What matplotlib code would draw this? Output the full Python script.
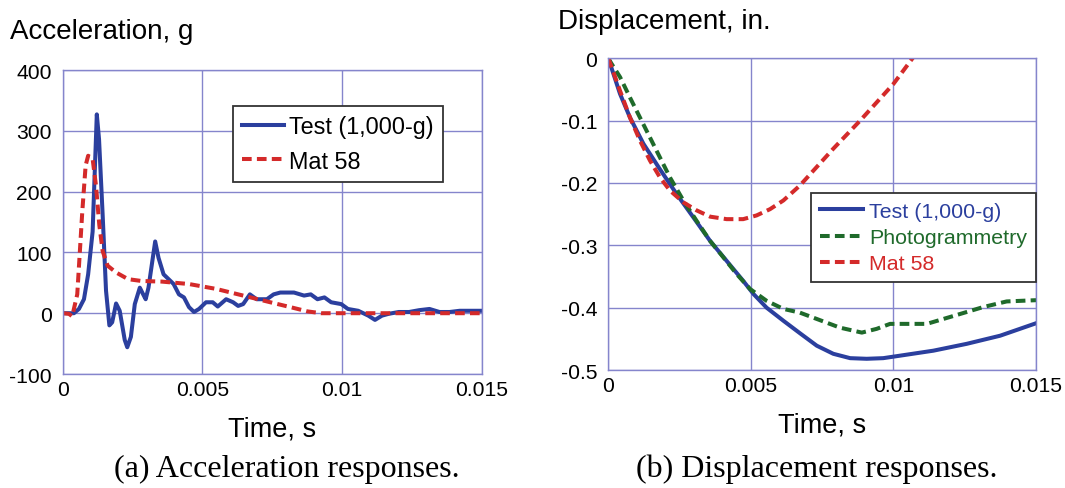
import matplotlib
matplotlib.use("Agg")
from matplotlib import pyplot as plt

# (a) acceleration, g
acc_test_t = [0, 0.0004, 0.00058, 0.00076, 0.00091, 0.00107, 0.00122, 0.0013, 0.00143, 0.00155,
              0.00167, 0.00177, 0.00191, 0.00204, 0.00222, 0.00231, 0.00244, 0.00258, 0.00276,
              0.00288, 0.00297, 0.00307, 0.00319, 0.00331, 0.00343, 0.00361, 0.00379, 0.00397,
              0.00416, 0.00434, 0.00452, 0.0047, 0.00488, 0.00513, 0.00537, 0.00555, 0.00585,
              0.0061, 0.00628, 0.00646, 0.0067, 0.00694, 0.00731, 0.00755, 0.00779, 0.00828,
              0.00864, 0.00888, 0.00912, 0.00937, 0.00961, 0.00997, 0.01021, 0.01058, 0.01094,
              0.01118, 0.01143, 0.01167, 0.01203, 0.0124, 0.01276, 0.01313, 0.01349, 0.01385,
              0.01421, 0.015]
acc_test = [0, 0, 7, 23, 64, 134, 327, 286, 161, 37,
            -20, -15, 16, 4, -44, -56, -39, 15, 42,
            31, 23, 42, 80, 118, 91, 64, 56, 48,
            31, 26, 10, 2, 7, 18, 18, 11, 23,
            18, 12, 15, 31, 23, 23, 31, 34, 34,
            29, 31, 23, 26, 18, 15, 7, 4, -4,
            -11, -4, -1, 2, 2, 5, 7, 2, 2,
            4, 4]
acc_mat_t = [0, 0.00022, 0.00034, 0.00052, 0.0007, 0.00082, 0.00091, 0.00107, 0.00119, 0.00131,
             0.00143, 0.00161, 0.00191, 0.00234, 0.00282, 0.00355, 0.00452, 0.00549, 0.00646,
             0.00743, 0.00815, 0.00876, 0.00925, 0.015]
acc_mat = [0, -1, -5, 31, 167, 243, 259, 254, 210, 145,
           102, 78, 67, 56, 53, 52, 48, 40, 29,
           18, 10, 3, 0, 0]

# (b) displacement, in.
disp_test_t = [0, 0.00041, 0.00076, 0.00123, 0.00181, 0.0024, 0.00298, 0.00357, 0.00415,
               0.00473, 0.00509, 0.00555, 0.00614, 0.00672, 0.00731, 0.00789, 0.00848, 0.00906,
               0.00964, 0.01023, 0.0114, 0.01257, 0.01374, 0.015]
disp_test = [0, -0.057, -0.095, -0.137, -0.178, -0.218, -0.255, -0.293, -0.325,
             -0.357, -0.378, -0.400, -0.421, -0.441, -0.461, -0.474, -0.481, -0.482,
             -0.481, -0.477, -0.469, -0.458, -0.445, -0.425]
disp_photo_t = [0, 0.000117, 0.00041, 0.00076, 0.00111, 0.00146, 0.00181, 0.00216, 0.00263,
                0.0031, 0.00357, 0.00403, 0.0045, 0.00497, 0.00555, 0.00614, 0.00672, 0.00742,
                0.00812, 0.00889, 0.00941, 0.00988, 0.01117, 0.01198, 0.01315, 0.01397, 0.015]
disp_photo = [0, -0.009, -0.030, -0.063, -0.095, -0.127, -0.159, -0.191, -0.228,
              -0.261, -0.293, -0.319, -0.346, -0.370, -0.389, -0.402, -0.408, -0.420,
              -0.432, -0.440, -0.434, -0.426, -0.426, -0.415, -0.399, -0.390, -0.388]
disp_mat_t = [0, 0.000117, 0.00041, 0.00076, 0.00111, 0.00146, 0.00181, 0.00216, 0.00263,
              0.0031, 0.00357, 0.00415, 0.00473, 0.0052, 0.00567, 0.00614, 0.00672, 0.00789,
              0.00883, 0.01, 0.0107]
disp_mat = [0, -0.0145, -0.052, -0.095, -0.132, -0.164, -0.191, -0.212, -0.231,
            -0.244, -0.254, -0.258, -0.258, -0.252, -0.242, -0.228, -0.204, -0.145,
            -0.100, -0.041, 0.002]

BLUE = "#2b3f9e"
RED = "#d42a2a"
GREEN = "#1f6a2b"
GRID = "#8585cc"
SANS = "Liberation Sans"
SERIF = "Liberation Serif"

fig = plt.figure(figsize=(10.65, 4.89), dpi=100)
ax1 = fig.add_axes([0.0589, 0.2331, 0.3934, 0.6217])
ax2 = fig.add_axes([0.5712, 0.2413, 0.4016, 0.6374])

LW = 2.9
dash = (0, (2.4, 1.3))

ax1.plot(acc_test_t, acc_test, color=BLUE, lw=LW, label="Test (1,000-g)")
ax1.plot(acc_mat_t, acc_mat, color=RED, lw=LW, ls=dash, label="Mat 58")
ax1.set_ylim(-100, 400)
ax1.set_yticks([-100, 0, 100, 200, 300, 400])
ax1.set_yticklabels(["-100", "0", "100", "200", "300", "400"])

ax2.plot(disp_test_t, disp_test, color=BLUE, lw=LW, label="Test (1,000-g)")
ax2.plot(disp_photo_t, disp_photo, color=GREEN, lw=LW, ls=dash, label="Photogrammetry")
ax2.plot(disp_mat_t, disp_mat, color=RED, lw=LW, ls=dash, label="Mat 58")
ax2.set_ylim(-0.5, 0)
ax2.set_yticks([-0.5, -0.4, -0.3, -0.2, -0.1, 0])
ax2.set_yticklabels(["-0.5", "-0.4", "-0.3", "-0.2", "-0.1", "0"])

for ax in (ax1, ax2):
    ax.set_xlim(0, 0.015)
    ax.set_xticks([0, 0.005, 0.01, 0.015])
    ax.set_xticklabels(["0", "0.005", "0.01", "0.015"])
    ax.grid(True, color=GRID, lw=1.0)
    ax.set_axisbelow(True)
    for s in ax.spines.values():
        s.set_color(GRID)
        s.set_linewidth(1.0)
    ax.tick_params(length=0, labelsize=15.2)
    ax.tick_params(axis="y", pad=8)
    ax.tick_params(axis="x", pad=4)
    for lbl in ax.get_xticklabels() + ax.get_yticklabels():
        lbl.set_fontfamily(SANS)
    ax.set_xlabel("Time, s", fontsize=19.5, fontfamily=SANS, labelpad=12)

leg1 = ax1.legend(loc="upper left", bbox_to_anchor=(0.406, 0.883), borderaxespad=0,
                  prop={"family": SANS, "size": 16.8},
                  frameon=True, fancybox=False, edgecolor="#333333", framealpha=1,
                  handlelength=1.8, handletextpad=0.2, borderpad=0.4, labelspacing=0.5)
leg1.get_frame().set_linewidth(1.3)

leg2 = ax2.legend(loc="upper left", bbox_to_anchor=(0.474, 0.568), borderaxespad=0,
                  prop={"family": SANS, "size": 15.4},
                  frameon=True, fancybox=False, edgecolor="#333333", framealpha=1,
                  handlelength=2.0, handletextpad=0.3, borderpad=0.42, labelspacing=0.34)
leg2.get_frame().set_linewidth(1.3)
for txt, c in zip(leg2.get_texts(), [BLUE, GREEN, RED]):
    txt.set_color(c)

fig.text(0.0094, 0.920, "Acceleration, g", fontsize=20, fontfamily=SANS, va="baseline", ha="left")
fig.text(0.524, 0.9407, "Displacement, in.", fontsize=20, fontfamily=SANS, va="baseline", ha="left")

fig.text(0.2695, 0.0245, "(a) Acceleration responses.", fontsize=23, fontfamily=SERIF,
         ha="center", va="baseline")
fig.text(0.7669, 0.0245, "(b) Displacement responses.", fontsize=23, fontfamily=SERIF,
         ha="center", va="baseline")

fig.savefig("out.png", dpi=100)
